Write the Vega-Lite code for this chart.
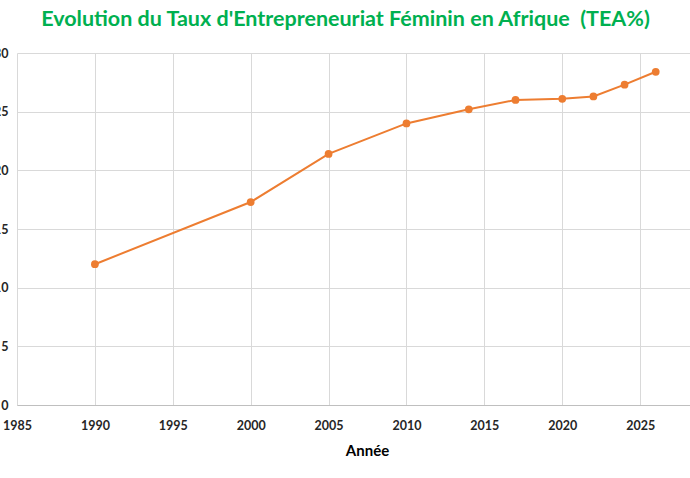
{
  "$schema": "https://vega.github.io/schema/vega-lite/v6.json",
  "description": "Evolution du taux d'entrepreneuriat feminin en Afrique",
  "autosize": {"type": "none"},
  "padding": {"left": 17, "top": 53, "right": 0, "bottom": 73},
  "width": 673,
  "height": 352,
  "background": "white",
  "title": {
    "text": "Evolution du Taux d'Entrepreneuriat Féminin en Afrique \u00a0(TEA%)",
    "font": "Lato",
    "fontSize": 21.5,
    "fontWeight": "bold",
    "color": "#00B050",
    "anchor": "middle",
    "dx": -8,
    "offset": 17
  },
  "data": {
    "values": [
      {"annee": 1990, "tea": 12.0},
      {"annee": 2000, "tea": 17.3},
      {"annee": 2005, "tea": 21.4},
      {"annee": 2010, "tea": 24.0},
      {"annee": 2014, "tea": 25.2},
      {"annee": 2017, "tea": 26.0},
      {"annee": 2020, "tea": 26.1},
      {"annee": 2022, "tea": 26.3},
      {"annee": 2024, "tea": 27.3},
      {"annee": 2026, "tea": 28.4}
    ]
  },
  "mark": {
    "type": "line",
    "color": "#ED7D31",
    "strokeWidth": 2,
    "point": {"filled": true, "size": 60, "color": "#ED7D31"}
  },
  "encoding": {
    "x": {
      "field": "annee",
      "type": "quantitative",
      "scale": {"domain": [1985, 2028.2], "nice": false, "zero": false},
      "axis": {
        "title": "Année",
        "values": [1985, 1990, 1995, 2000, 2005, 2010, 2015, 2020, 2025],
        "format": "d",
        "grid": true,
        "gridColor": "#D9D9D9",
        "domainColor": "#BFBFBF",
        "ticks": false,
        "labelFlush": false,
        "labelPadding": 14,
        "labelFont": "Lato",
        "labelFontSize": 12.5,
        "labelFontWeight": "bold",
        "labelColor": "#262626",
        "titleFont": "Lato",
        "titleFontSize": 15,
        "titleFontWeight": "bold",
        "titleColor": "#000000",
        "titleX": 350,
        "titleY": 50,
        "titleBaseline": "alphabetic"
      }
    },
    "y": {
      "field": "tea",
      "type": "quantitative",
      "scale": {"domain": [0, 30], "nice": false},
      "axis": {
        "title": null,
        "values": [0, 5, 10, 15, 20, 25, 30],
        "grid": true,
        "gridColor": "#D9D9D9",
        "domain": false,
        "ticks": false,
        "labelFlush": false,
        "labelPadding": 9,
        "labelFont": "Lato",
        "labelFontSize": 12.5,
        "labelFontWeight": "bold",
        "labelColor": "#262626"
      }
    }
  },
  "config": {"view": {"stroke": null}}
}
